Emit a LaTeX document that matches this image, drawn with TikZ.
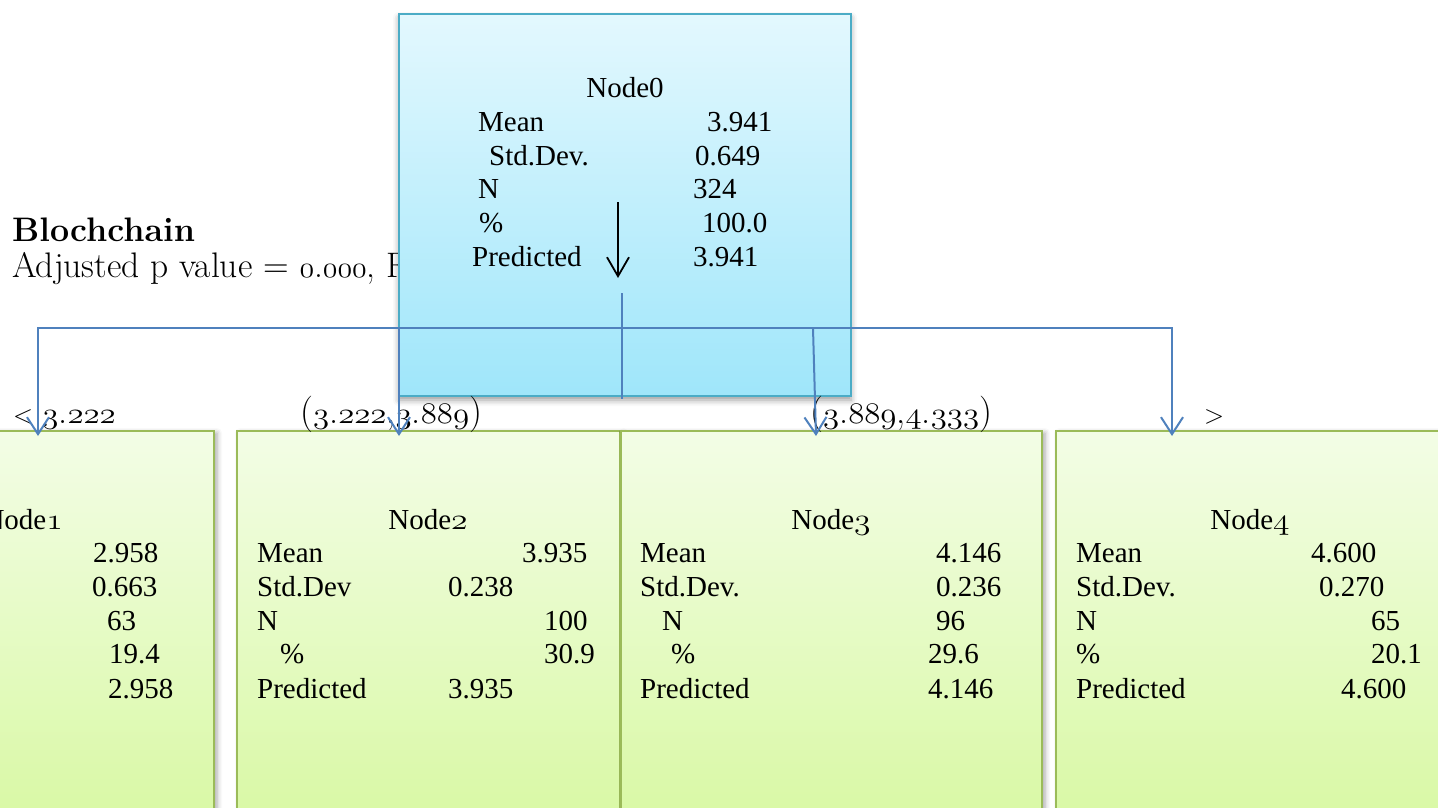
\documentclass[tikz,border=0pt]{standalone}
\usepackage{fontspec}
\usepackage{graphicx}
\newfontfamily\tnr{Liberation Serif}
\usetikzlibrary{arrows.meta,shadows.blur}
% old-style figures taken from the Latin Modern math italic font, slightly enlarged
\newcommand\osd[2][1.2]{{\usefont{OML}{lmm}{m}{it}\scalebox{#1}[1.2]{#2}}}
\definecolor{roottop}{HTML}{E3F8FE}
\definecolor{rootbot}{HTML}{9FE6FA}
\definecolor{rootedge}{HTML}{4BACC6}
\definecolor{leaftop}{HTML}{F3FDE6}
\definecolor{leafbot}{HTML}{D6F89E}
\definecolor{leafedge}{HTML}{9BBB59}
\definecolor{linkblue}{HTML}{4F81BD}
\tikzset{
  stat/.style={font=\tnr\fontsize{29}{34}\selectfont, inner sep=0pt, anchor=base west},
  stathead/.style={font=\tnr\fontsize{29}{34}\selectfont, inner sep=0pt, anchor=base},
  georg/.style={font=\fontsize{36.5}{40}\selectfont, inner sep=0pt, anchor=base west},
  rootbox/.style={draw=rootedge, line width=2.5pt, top color=roottop, bottom color=rootbot,
    inner sep=0pt, blur shadow={shadow xshift=0pt, shadow yshift=-4pt, shadow blur radius=6pt, shadow opacity=40}},
  leafbox/.style={draw=leafedge, line width=2.5pt, top color=leaftop, bottom color=leafbot,
    inner sep=0pt, blur shadow={shadow xshift=3pt, shadow yshift=-2pt, shadow blur radius=5pt, shadow opacity=35}},
  link/.style={draw=linkblue, line width=2pt},
  bluetip/.tip={Straight Barb[length=17pt, width=22pt, line width=2pt]},
  blacktip/.tip={Straight Barb[length=19pt, width=22pt, line width=1.8pt]},
}
\begin{document}
\begin{tikzpicture}[x=1pt, y=-1pt]
\useasboundingbox (0,0) rectangle (1438,808);
\clip (0,0) rectangle (1438,808);

% heading on the left, partly hidden by the root box
\node[georg, font=\bfseries\fontsize{34}{40}\selectfont] (title) at (12,241) {Blochchain};
\node[georg, font=\fontsize{35.5}{40}\selectfont] (adj) at (12,277) {Adjusted p value = \osd{0}.\osd{000}, F};

% boxes
\node[rootbox, minimum width=452pt, minimum height=382pt] (n0) at (625,205) {};
\node[leafbox, minimum width=385pt, minimum height=429pt] (n1) at (21.5,645.5) {};
\node[leafbox, minimum width=383pt, minimum height=429pt] (n2) at (428.5,645.5) {};
\node[leafbox, minimum width=421pt, minimum height=429pt] (n3) at (831.5,645.5) {};
\node[leafbox, minimum width=414pt, minimum height=429pt] (n4) at (1263,645.5) {};

% split labels
\node[georg] (l1) at (13,423) {\scalebox{0.72}{<}\kern0.25em\osd[1.32]{3}.\osd[1.32]{222}};
\node[georg] (l2) at (300,423) {(\osd[1.32]{3}.\osd[1.32]{222},\osd[1.32]{3}.\osd[1.32]{889})};
\node[georg] (l3) at (810,423) {(\osd[1.32]{3}.\osd[1.32]{889},\osd[1.32]{4}.\osd[1.32]{333})};
\node[georg] (l4) at (1204,423) {\scalebox{0.72}{>}};

% root statistics
\node[stathead] (h0) at (625,97) {Node0};
\node[stat] (a0) at (478,131) {Mean};      \node[stat] (va0) at (707,131) {3.941};
\node[stat] (b0) at (489,165) {Std.Dev.};  \node[stat] (vb0) at (695,165) {0.649};
\node[stat] (c0) at (478,198) {N};         \node[stat] (vc0) at (693,198) {324};
\node[stat] (d0) at (479,232) {\%};        \node[stat] (vd0) at (702,232) {100.0};
\node[stat] (e0) at (472,266) {Predicted}; \node[stat] (ve0) at (693,266) {3.941};

% node 1
\node[stathead, anchor=base east] (h1) at (63,529) {Node\osd[1.35]{1}};
\node[stat] (va1) at (93,562) {2.958};
\node[stat] (vb1) at (92,596) {0.663};
\node[stat] (vc1) at (107,630) {63};
\node[stat] (vd1) at (109,663) {19.4};
\node[stat] (ve1) at (108,698) {2.958};

% node 2
\node[stathead] (h2) at (428,529) {Node\osd[1.35]{2}};
\node[stat] (a2) at (257,562) {Mean};      \node[stat] (va2) at (522,562) {3.935};
\node[stat] (b2) at (257,596) {Std.Dev};   \node[stat] (vb2) at (448,596) {0.238};
\node[stat] (c2) at (257,630) {N};         \node[stat] (vc2) at (544,630) {100};
\node[stat] (d2) at (280,663) {\%};        \node[stat] (vd2) at (544,663) {30.9};
\node[stat] (e2) at (257,698) {Predicted}; \node[stat] (ve2) at (448,698) {3.935};

% node 3
\node[stathead] (h3) at (831,529) {Node\osd[1.35]{3}};
\node[stat] (a3) at (640,562) {Mean};      \node[stat] (va3) at (936,562) {4.146};
\node[stat] (b3) at (640,596) {Std.Dev.};  \node[stat] (vb3) at (936,596) {0.236};
\node[stat] (c3) at (662,630) {N};         \node[stat] (vc3) at (936,630) {96};
\node[stat] (d3) at (671,663) {\%};        \node[stat] (vd3) at (928,663) {29.6};
\node[stat] (e3) at (640,698) {Predicted}; \node[stat] (ve3) at (928,698) {4.146};

% node 4
\node[stathead] (h4) at (1250,529) {Node\osd[1.35]{4}};
\node[stat] (a4) at (1076,562) {Mean};      \node[stat] (va4) at (1311,562) {4.600};
\node[stat] (b4) at (1076,596) {Std.Dev.};  \node[stat] (vb4) at (1319,596) {0.270};
\node[stat] (c4) at (1076,630) {N};         \node[stat] (vc4) at (1371,630) {65};
\node[stat] (d4) at (1076,663) {\%};        \node[stat] (vd4) at (1371,663) {20.1};
\node[stat] (e4) at (1076,698) {Predicted}; \node[stat] (ve4) at (1341,698) {4.600};

% connector points
\coordinate (stemtop) at (622,293);
\coordinate (stembot) at (622,399);
\coordinate (buswest) at (38,328);
\coordinate (buseast) at (1172,328);
\coordinate (j2) at (399,328);
\coordinate (j3) at (813,328);
\coordinate (t1) at (38,436);
\coordinate (t2) at (399,436);
\coordinate (t3) at (816,436);
\coordinate (t4) at (1172,436);
\coordinate (arrtop) at (618,202);
\coordinate (arrbot) at (618,278);

% connectors
\draw[link] (stemtop) -- (stembot);
\draw[link, bluetip-bluetip, line join=miter] (t1) -- (buswest) -- (buseast) -- (t4);
\draw[link, -bluetip] (j2) -- (t2);
\draw[link, -bluetip] (j3) -- (t3);
\draw[line width=1.8pt, -blacktip] (arrtop) -- (arrbot);
\end{tikzpicture}
\end{document}
